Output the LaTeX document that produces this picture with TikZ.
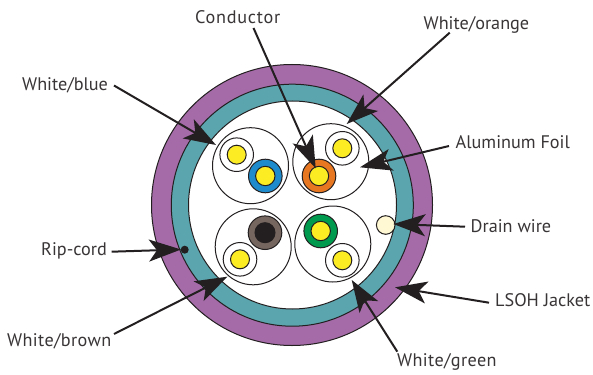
\documentclass[tikz,border=0pt]{standalone}
\usepackage{fontspec}
\setmainfont{PT Sans}
\usetikzlibrary{arrows.meta}
\definecolor{jacket}{HTML}{A46BA8}
\definecolor{shield}{HTML}{5AA5AE}
\definecolor{cyel}{HTML}{FBEC24}
\definecolor{cblue}{HTML}{1E8BCD}
\definecolor{corange}{HTML}{E87722}
\definecolor{cbrown}{HTML}{75665F}
\definecolor{cgreen}{HTML}{009A4E}
\definecolor{ccream}{HTML}{FFF8D2}
\definecolor{ink}{HTML}{231F20}
\tikzset{
  disc/.style={circle,draw=ink,line width=1pt,inner sep=0pt,outer sep=0pt,minimum size=#1},
  lab/.style={font=\fontsize{18.2}{20}\selectfont,text=ink!90,inner sep=0pt},
  callout/.style={draw=ink,line width=2pt,-{Stealth[length=32pt,width=22pt,inset=8pt]}},
}
\newcommand{\plainwire}[2]{%
  \node[disc=33.6pt,fill=white] (#1w) at (#2) {};
  \node[disc=19pt,fill=cyel] (#1y) at (#2) {};}
\newcommand{\colwire}[3]{%
  \node[disc=33.6pt,fill=#3] (#1w) at (#2) {};
  \node[disc=19.4pt,fill=cyel] (#1y) at (#2) {};}
\begin{document}
\begin{tikzpicture}[x=1pt,y=-1pt]
\useasboundingbox (0,0) rectangle (593,374);
\fill[white] (0,0) rectangle (593,374);
\node[disc=281pt,fill=jacket] (jacket) at (292,205) {};
\node[disc=242pt,fill=shield] (shield) at (292.3,205.2) {};
\node[disc=208pt,fill=white] (core) at (292.5,205) {};
\node[disc=76pt] (tl) at (250.5,165.7) {};
\node[disc=76pt] (tr) at (330.8,161.7) {};
\node[disc=76pt] (bl) at (253.2,246.8) {};
\node[disc=76pt] (br) at (332.8,244) {};
\plainwire{a}{236.7,154.7}
\colwire{b}{265.3,176}{cblue}
\plainwire{c}{342.3,148.3}
\colwire{d}{319,176}{corange}
\node[disc=33.6pt,fill=cbrown] (ew) at (265,232.7) {};
\node[disc=20pt,fill=ink] (ey) at (265,232.7) {};
\plainwire{f}{240,259.3}
\colwire{g}{320.7,231}{cgreen}
\plainwire{h}{342.3,260.3}
\node[disc=18.6pt,fill=ccream] (drain) at (385.7,225) {};
\node[circle,fill=ink,minimum size=8pt,inner sep=0pt] (rip) at (184.7,249.7) {};

\node[lab,anchor=base west] (Lcond) at (195,24) {\addfontfeature{LetterSpace=4}Conductor};
\node[lab,anchor=base west] (Lor) at (423.5,29.5) {White/orange};
\node[lab,anchor=base west] (Lbl) at (22,90.5) {White/blue};
\node[lab,anchor=base west] (Lfoil) at (455.5,148.5) {Aluminum Foil};
\node[lab,anchor=base west] (Ldr) at (470.5,232.7) {Drain wire};
\node[lab,anchor=base west] (Lrip) at (41,255) {Rip-cord};
\node[lab,anchor=base west] (Llsoh) at (495,306.7) {LSOH Jacket};
\node[lab,anchor=base west] (Lbr) at (7,346.7) {\addfontfeature{LetterSpace=2}White/brown};
\node[lab,anchor=base west] (Lgr) at (397,366.7) {\addfontfeature{LetterSpace=2}White/green};

\coordinate (Tcond) at (253.5,28);
\coordinate (Tor) at (449.7,32.7);
\coordinate (Tbl) at (114,85.5);
\coordinate (Tfoil) at (449,146);
\coordinate (Tdr) at (465,226.7);
\coordinate (Trip) at (111.7,251.7);
\coordinate (Tlsoh) at (489,302.7);
\coordinate (Tbr) at (114,334);
\coordinate (Tgr) at (397.3,351.7);
\coordinate (Pcond) at (315.7,168.3);
\coordinate (Por) at (346.7,124);
\coordinate (Pbl) at (216,145);
\coordinate (Pfoil) at (360,167.3);
\coordinate (Pdr) at (393.3,224);
\coordinate (Prip) at (181,249.5);
\coordinate (Plsoh) at (395,287.3);
\coordinate (Pbr) at (227.3,276.7);
\coordinate (Pgr) at (351.7,280);
\foreach \t/\p in {Tcond/Pcond,Tor/Por,Tbl/Pbl,Tfoil/Pfoil,Tdr/Pdr,Trip/Prip,Tlsoh/Plsoh,Tbr/Pbr,Tgr/Pgr}
  \draw[callout] (\t) -- (\p);
\end{tikzpicture}
\end{document}
